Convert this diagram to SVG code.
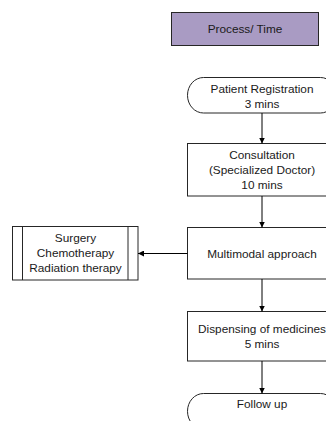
<svg xmlns="http://www.w3.org/2000/svg" width="326" height="421" viewBox="0 0 326 421">
<style>
.box{fill:#fff;stroke:#262626;stroke-width:1}
.hdr{fill:#a99bc3;stroke:#262626;stroke-width:1}
.t{font-family:"Liberation Sans",Arial,sans-serif;font-size:11.8px;fill:#1a1a1a;text-anchor:middle}
.c{stroke:#000;stroke-width:1;fill:none}
</style>
<defs>
<marker id="ah" viewBox="0 0 10 10" refX="10" refY="5" markerWidth="6" markerHeight="6" markerUnits="userSpaceOnUse" orient="auto">
<path d="M0,0 L10,5 L0,10 Z" fill="#000"/>
</marker>
</defs>
<g id="process-time">
<rect class="hdr" x="171.5" y="12.5" width="147" height="33"/>
<text class="t" x="245" y="33">Process/ Time</text>
</g>
<g id="patient-registration">
<rect class="box" x="187.5" y="77.5" width="149" height="35.5" rx="16" ry="17.7"/>
<text class="t" x="262" y="93">Patient Registration</text>
<text class="t" x="262" y="108">3 mins</text>
</g>
<g id="consultation">
<rect class="box" x="187.5" y="143.5" width="149" height="52.5"/>
<text class="t" x="262" y="158.5">Consultation</text>
<text class="t" x="262" y="173.5">(Specialized Doctor)</text>
<text class="t" x="262" y="188.5">10 mins</text>
</g>
<g id="multimodal">
<rect class="box" x="187.5" y="227.5" width="149" height="51.5"/>
<text class="t" x="262" y="257.5">Multimodal approach</text>
</g>
<g id="treatments">
<rect class="box" x="12.5" y="226.5" width="125.5" height="53.5"/>
<line class="box" x1="22.5" y1="226.5" x2="22.5" y2="280"/>
<line class="box" x1="128" y1="226.5" x2="128" y2="280"/>
<text class="t" x="75.5" y="241.5">Surgery</text>
<text class="t" x="75.5" y="256.5">Chemotherapy</text>
<text class="t" x="75.5" y="272">Radiation therapy</text>
</g>
<g id="dispensing">
<rect class="box" x="187.5" y="311.5" width="149" height="49.5"/>
<text class="t" x="262" y="333">Dispensing of medicines</text>
<text class="t" x="262" y="348">5 mins</text>
</g>
<g id="follow-up">
<rect class="box" x="187.5" y="393.5" width="149" height="35.5" rx="16" ry="17.7"/>
<text class="t" x="262" y="408">Follow up</text>
</g>
<g id="connectors">
<line class="c" x1="262" y1="113" x2="262" y2="143.5" marker-end="url(#ah)"/>
<line class="c" x1="262" y1="196" x2="262" y2="227.5" marker-end="url(#ah)"/>
<line class="c" x1="187.5" y1="253.5" x2="138" y2="253.5" marker-end="url(#ah)"/>
<line class="c" x1="262" y1="279" x2="262" y2="311.5" marker-end="url(#ah)"/>
<line class="c" x1="262" y1="361" x2="262" y2="393.5" marker-end="url(#ah)"/>
</g>
</svg>
